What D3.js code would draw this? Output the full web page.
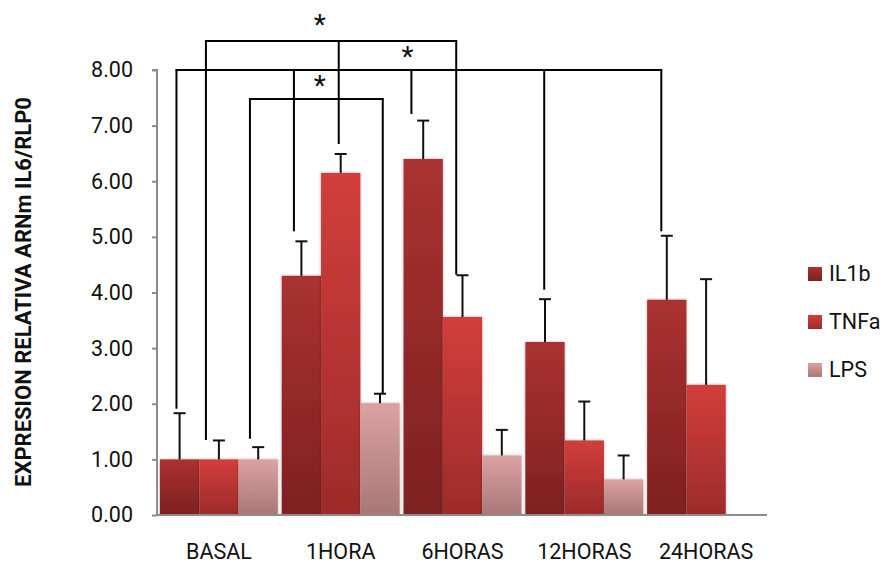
<!DOCTYPE html>
<html><head><meta charset="utf-8">
<script src="https://cdn.jsdelivr.net/npm/d3@7"></script>
<style>html,body{margin:0;padding:0;background:#fff;}svg{display:block;}</style>
</head><body>
<script>
// ---- data ----
const categories = ["BASAL", "1HORA", "6HORAS", "12HORAS", "24HORAS"];
const seriesNames = ["IL1b", "TNFa", "LPS"];
const il1b    = [1.00, 4.30, 6.40, 3.11, 3.87];
const il1bErr = [0.83, 0.62, 0.69, 0.77, 1.15];
const tnfa    = [1.00, 6.15, 3.56, 1.34, 2.34];
const tnfaErr = [0.34, 0.34, 0.75, 0.70, 1.90];
const lps     = [1.00, 2.01, 1.07, 0.64, null];
const lpsErr  = [0.22, 0.17, 0.46, 0.43, null];
const yTicks  = [0, 1, 2, 3, 4, 5, 6, 7, 8];
const yTitle  = "EXPRESION RELATIVA ARNm IL6/RLP0";
// significance brackets: top level (data units) and legs [category, series, position within bar, bottom level]
const bracketTop = [8.52, 8.00, 7.48];
const bracketLegs = [
  [["BASAL","TNFa",0.17,1.35], ["1HORA","TNFa",0.45,6.67], ["6HORAS","TNFa",0.34,4.32]],
  [["BASAL","IL1b",0.42,1.91], ["1HORA","IL1b",0.31,5.10], ["6HORAS","IL1b",0.20,7.21], ["12HORAS","IL1b",0.48,4.05], ["24HORAS","IL1b",0.36,5.10]],
  [["BASAL","LPS",0.29,1.37], ["1HORA","LPS",0.57,2.18]]
];
const starMarks = [["1HORA","IL1b",0.97,8.88], ["6HORAS","IL1b",0.10,8.30], ["1HORA","IL1b",0.97,7.78]];

const values = [il1b, tnfa, lps];
const errors = [il1bErr, tnfaErr, lpsErr];
const colors = [["#ab3131", "#7d2121"], ["#d23e3b", "#9d2b2b"], ["#dca2a2", "#a87676"]];

const W = 882, H = 567;
const svg = d3.select("body").append("svg").attr("width", W).attr("height", H);
const defs = svg.append("defs");
colors.forEach((c, i) => {
  const g = defs.append("linearGradient").attr("id", "g" + i).attr("x1", 0).attr("y1", 0).attr("x2", 0).attr("y2", 1);
  g.append("stop").attr("offset", "0%").attr("stop-color", c[0]);
  g.append("stop").attr("offset", "100%").attr("stop-color", c[1]);
});
const f = defs.append("filter").attr("id", "sh").attr("x", "-20%").attr("y", "-20%").attr("width", "140%").attr("height", "140%");
f.append("feDropShadow").attr("dx", 0).attr("dy", 0).attr("stdDeviation", 1.5).attr("flood-color", "#000").attr("flood-opacity", 0.3);

const x0 = d3.scaleBand().domain(categories).range([158, 767]).paddingInner(0.032).paddingOuter(0.016);
const x1 = d3.scaleBand().domain(seriesNames).range([0, x0.bandwidth()]);
const y = d3.scaleLinear().domain([0, 8]).range([515, 70]);

const font = "Roboto, 'Open Sans', sans-serif";

// bars
const rows = [];
categories.forEach((c, ci) => seriesNames.forEach((s, si) => {
  if (values[si][ci] != null) rows.push({c, s, si, v: values[si][ci], e: errors[si][ci]});
}));
svg.append("g").selectAll("rect").data(rows).join("rect")
  .attr("x", d => x0(d.c) + x1(d.s))
  .attr("width", x1.bandwidth())
  .attr("y", d => y(d.v))
  .attr("height", d => y(0) - y(d.v))
  .attr("fill", d => "url(#g" + d.si + ")")
  .attr("filter", "url(#sh)");

// error bars (upper)
const eg = svg.append("g").attr("stroke", "#111").attr("stroke-width", 2);
rows.forEach(d => {
  const cx = x0(d.c) + x1(d.s) + x1.bandwidth() / 2;
  eg.append("line").attr("x1", cx).attr("x2", cx).attr("y1", y(d.v)).attr("y2", y(d.v + d.e));
  eg.append("line").attr("x1", cx - 6).attr("x2", cx + 6).attr("y1", y(d.v + d.e)).attr("y2", y(d.v + d.e));
});

// axes
const yAxis = d3.axisLeft(y).tickValues(yTicks).tickFormat(d3.format(".2f")).tickSize(5).tickPadding(19);
const ya = svg.append("g").attr("transform", "translate(157,0)").call(yAxis);
ya.select(".domain").attr("stroke", "#8c8c8c").attr("stroke-width", 2).attr("d", "M-5," + y(8) + "H0V" + y(0));
ya.selectAll(".tick line").attr("stroke", "#8c8c8c").attr("stroke-width", 2);
ya.selectAll(".tick text").attr("font-family", font).attr("font-size", 21.5).attr("fill", "#111");

const xAxis = d3.axisBottom(x0).tickSize(0).tickPadding(29);
const xa = svg.append("g").attr("transform", "translate(0," + y(0) + ")").call(xAxis);
xa.select(".domain").attr("stroke", "#8c8c8c").attr("stroke-width", 2).attr("d", "M157,0H767");
xa.selectAll(".tick text").attr("font-family", font).attr("font-size", 21.5).attr("fill", "#111");

// y title
svg.append("text").attr("transform", "translate(31,292) rotate(-90)")
  .attr("text-anchor", "middle").attr("font-family", font).attr("font-weight", "bold")
  .attr("font-size", 22).attr("fill", "#111").text(yTitle);

// brackets
const legX = l => x0(l[0]) + x1(l[1]) + l[2] * x1.bandwidth();
const bg = svg.append("g").attr("stroke", "#000").attr("stroke-width", 2).attr("fill", "none");
bracketLegs.forEach((legs, i) => {
  const xs = legs.map(legX);
  bg.append("line").attr("x1", d3.min(xs) - 1).attr("x2", d3.max(xs) + 1).attr("y1", y(bracketTop[i])).attr("y2", y(bracketTop[i]));
  legs.forEach((l, j) => {
    bg.append("line").attr("x1", xs[j]).attr("x2", xs[j]).attr("y1", y(bracketTop[i])).attr("y2", y(l[3]));
  });
});
svg.append("g").selectAll("text").data(starMarks).join("text")
  .attr("x", legX).attr("y", d => y(d[3]) + 13)
  .attr("text-anchor", "middle").attr("font-family", font).attr("font-size", 28).attr("fill", "#111").text("*");

// legend
const lg = svg.append("g");
seriesNames.forEach((s, i) => {
  const cy = 274 + i * 48;
  lg.append("rect").attr("x", 808).attr("y", cy - 7).attr("width", 14).attr("height", 14).attr("fill", "url(#g" + i + ")");
  lg.append("text").attr("x", 829).attr("y", cy + 7).attr("font-family", font).attr("font-size", 21.5).attr("fill", "#111").text(s);
});
</script>
</body></html>
